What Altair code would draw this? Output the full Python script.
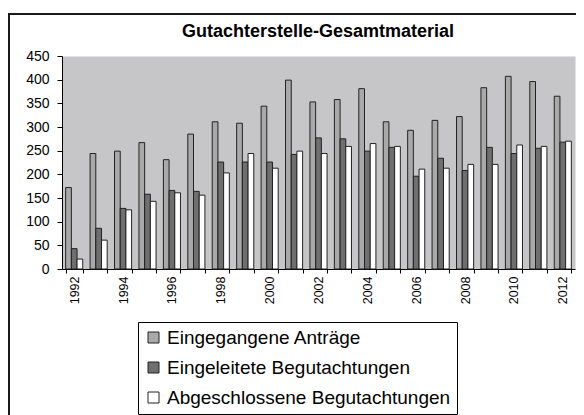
import altair as alt
import pandas as pd

years = ["1992", "1993", "1994", "1995", "1996", "1997", "1998", "1999", "2000", "2001",
         "2002", "2003", "2004", "2005", "2006", "2007", "2008", "2009", "2010", "2011", "2012"]
antraege = [172, 244, 249, 267, 231, 285, 311, 308, 344, 399, 353, 358, 381, 311, 293, 314, 322, 383, 407, 396, 365]
eingeleitet = [43, 86, 128, 158, 166, 164, 226, 226, 226, 242, 277, 275, 249, 257, 196, 234, 208, 257, 244, 255, 268]
abgeschlossen = [21, 61, 125, 143, 161, 156, 203, 244, 213, 249, 244, 259, 265, 259, 211, 213, 221, 221, 262, 259, 270]

series = ["Eingegangene Anträge", "Eingeleitete Begutachtungen", "Abgeschlossene Begutachtungen"]
colors = ["#a9a9a9", "#6f6f6f", "#ffffff"]
title_text = "Gutachterstelle-Gesamtmaterial"

rows = []
for name, vals in zip(series, [antraege, eingeleitet, abgeschlossen]):
    for y, v in zip(years, vals):
        rows.append({"Jahr": y, "Serie": name, "Wert": v})
df = pd.DataFrame(rows)

font = "Liberation Sans"

bars = alt.Chart(df).mark_bar(stroke="#222222", strokeWidth=1).encode(
    x=alt.X("Jahr:O", sort=years,
            scale=alt.Scale(paddingInner=0.3, paddingOuter=0.15),
            axis=alt.Axis(title=None, labelAngle=270, labelFontSize=12.5, labelFont=font,
                          labelColor="#000000", labelPadding=3,
                          labelExpr="parseInt(datum.value) % 2 == 0 ? datum.label : ''",
                          tickBand="extent", tickSize=4, tickColor="#000000",
                          domainColor="#000000", labelOverlap=False)),
    xOffset=alt.XOffset("Serie:N", sort=series, scale=alt.Scale(paddingInner=0, paddingOuter=0)),
    y=alt.Y("Wert:Q", scale=alt.Scale(domain=[0, 450], nice=False),
            axis=alt.Axis(title=None, values=[0, 50, 100, 150, 200, 250, 300, 350, 400, 450],
                          grid=False, labelFontSize=14, labelFont=font, labelColor="#000000",
                          labelPadding=8, tickSize=5, tickColor="#000000",
                          domainColor="#000000")),
    color=alt.Color("Serie:N", sort=series,
                    scale=alt.Scale(domain=series, range=colors),
                    legend=alt.Legend(title=None, orient="none", legendX=76, legendY=266,
                                      direction="vertical", symbolType="square", symbolSize=121,
                                      symbolStrokeColor="#222222", symbolStrokeWidth=1,
                                      labelFontSize=19, labelFont=font, labelColor="#000000",
                                      labelOffset=4, rowPadding=10, padding=6,
                                      strokeColor="#000000", fillColor="#ffffff",
                                      labelLimit=400)),
)

border = alt.Chart(pd.DataFrame({"a": [0]})).mark_rect(
    filled=False, stroke="#1a1a1a", strokeWidth=2
).encode(
    x=alt.value(-53), x2=alt.value(700), y=alt.value(-42), y2=alt.value(600)
)

title = alt.Chart(pd.DataFrame({"t": [title_text]})).mark_text(
    font=font, fontSize=18, fontWeight="bold", color="#000000",
    align="center", baseline="alphabetic"
).encode(text="t:N", x=alt.value(256), y=alt.value(-19))

chart = alt.layer(border, bars, title).properties(
    width=513, height=213,
    autosize=alt.AutoSizeParams(type="none"),
    padding={"left": 54, "top": 48, "right": 1, "bottom": 146},
).configure(font=font).configure_view(fill="#c6c6c8", stroke="transparent")

chart.save("out.html", embed_options={"renderer": "svg", "actions": False})
